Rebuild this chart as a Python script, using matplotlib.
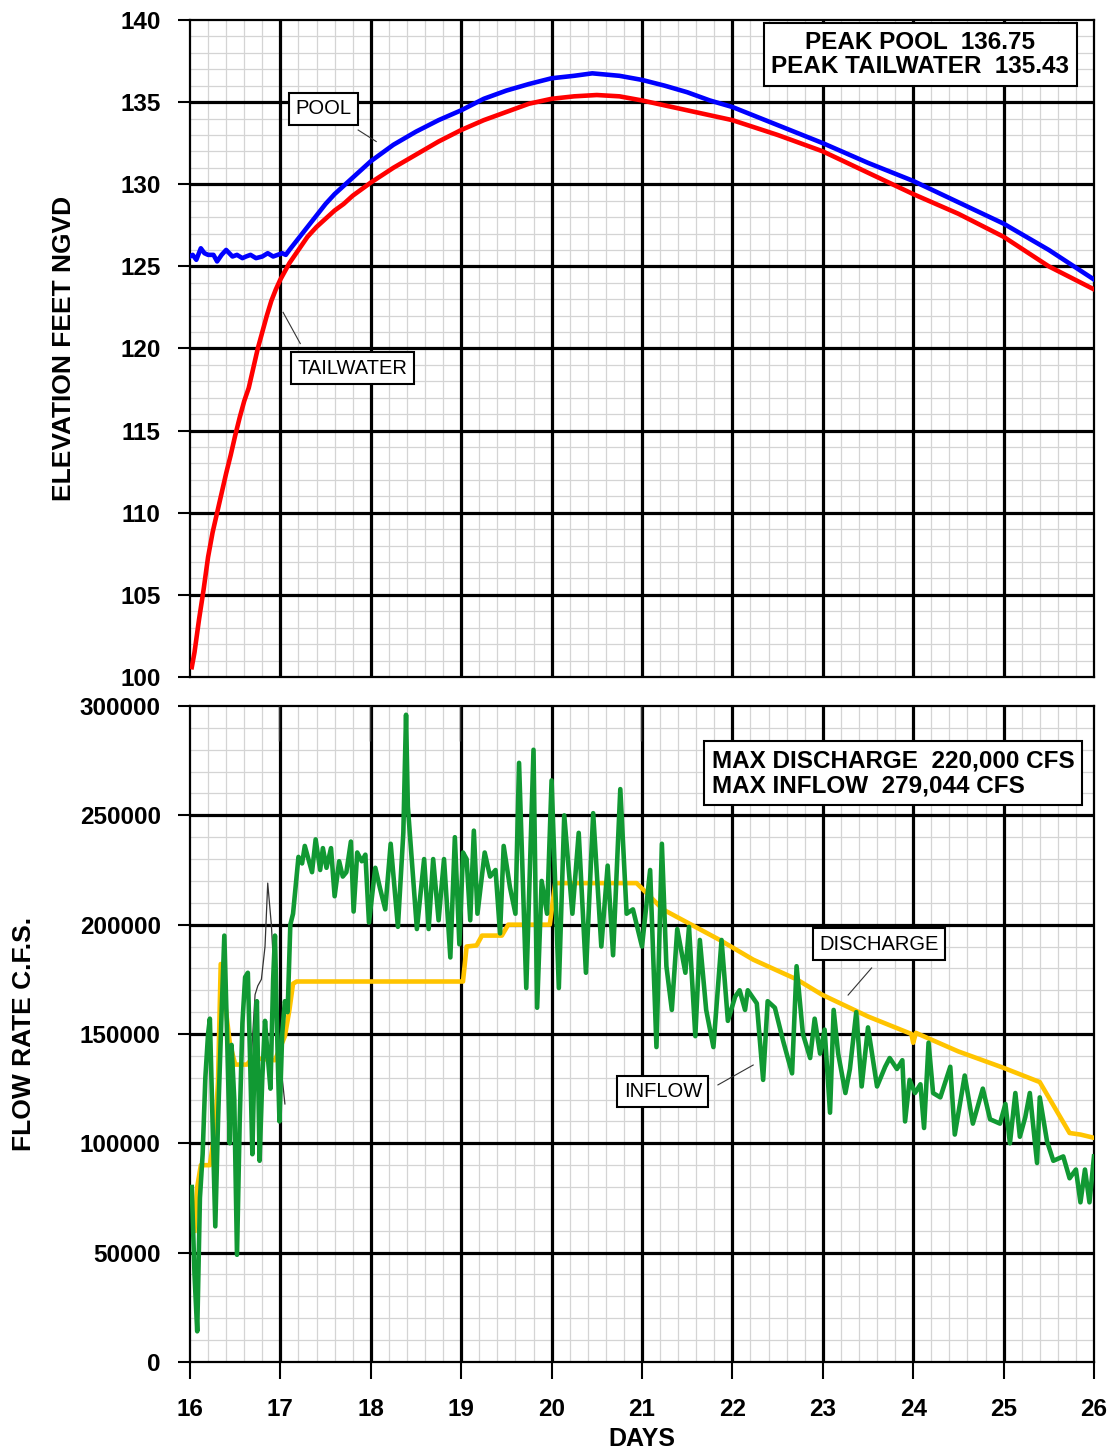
import matplotlib
matplotlib.use("Agg")
from matplotlib import pyplot as plt
from matplotlib.ticker import MultipleLocator

plt.rcParams['font.family'] = ['Liberation Sans', 'DejaVu Sans']

# ---- elevation data (days, feet NGVD) ----
pool_day = [16.0, 16.03, 16.07, 16.12, 16.16, 16.2, 16.26, 16.3, 16.35, 16.4, 16.47, 16.52,
            16.58, 16.62, 16.67, 16.73, 16.8, 16.86, 16.92, 16.97, 17.02, 17.06, 17.1,
            17.2, 17.3, 17.4, 17.5, 17.6, 17.7, 17.8, 17.9, 18.0, 18.25, 18.5, 18.75,
            19.0, 19.25, 19.5, 19.75, 20.0, 20.25, 20.45, 20.75, 21.0, 21.25, 21.5, 21.75,
            22.0, 22.5, 23.0, 23.5, 24.0, 24.5, 25.0, 25.5, 25.75, 26.0]
pool_elev = [125.6, 125.7, 125.4, 126.1, 125.8, 125.7, 125.7, 125.3, 125.7, 126.0, 125.6, 125.7,
             125.5, 125.6, 125.7, 125.5, 125.6, 125.8, 125.6, 125.7, 125.8, 125.7, 126.0,
             126.7, 127.4, 128.1, 128.8, 129.4, 129.9, 130.4, 130.9, 131.4, 132.4, 133.2, 133.9,
             134.5, 135.2, 135.7, 136.1, 136.45, 136.6, 136.75, 136.6, 136.35, 136.0, 135.6, 135.1,
             134.7, 133.6, 132.5, 131.3, 130.2, 128.9, 127.6, 126.0, 125.1, 124.2]

tail_day = [16.02, 16.05, 16.1, 16.15, 16.2, 16.25, 16.3, 16.35, 16.4, 16.45, 16.5, 16.55,
            16.6, 16.65, 16.7, 16.75, 16.8, 16.85, 16.9, 16.95, 17.0, 17.05, 17.1, 17.2,
            17.3, 17.4, 17.5, 17.6, 17.7, 17.8, 17.9, 18.0, 18.25, 18.5, 18.75, 19.0,
            19.25, 19.5, 19.75, 20.0, 20.25, 20.5, 20.75, 21.0, 21.5, 22.0, 22.5, 23.0,
            23.5, 24.0, 24.5, 25.0, 25.5, 26.0]
tail_elev = [100.6, 101.5, 103.5, 105.3, 107.3, 108.8, 110.0, 111.2, 112.4, 113.5, 114.7, 115.8,
             116.8, 117.6, 118.8, 120.0, 121.0, 122.0, 122.9, 123.6, 124.2, 124.7, 125.2, 126.0,
             126.8, 127.4, 127.9, 128.4, 128.8, 129.3, 129.7, 130.1, 131.0, 131.8, 132.6, 133.3,
             133.9, 134.4, 134.9, 135.2, 135.35, 135.43, 135.35, 135.1, 134.5, 133.9, 133.0, 132.0,
             130.7, 129.4, 128.2, 126.8, 125.0, 123.6]

# ---- flow data (days, cfs) ----
inflow_day = [16.02, 16.05, 16.08, 16.11, 16.14, 16.17, 16.2, 16.22, 16.25, 16.28, 16.31, 16.35,
              16.38, 16.41, 16.44, 16.46, 16.49, 16.52, 16.55, 16.58, 16.61, 16.64, 16.67, 16.69,
              16.72, 16.74, 16.77, 16.8, 16.83, 16.86, 16.89, 16.92, 16.94, 16.97, 16.99, 17.02,
              17.05, 17.08, 17.11, 17.14, 17.2, 17.24, 17.27, 17.35, 17.39, 17.44, 17.47, 17.51,
              17.56, 17.6, 17.65, 17.69, 17.73, 17.78, 17.81, 17.85, 17.9, 17.94, 17.98, 18.05,
              18.1, 18.16, 18.22, 18.3, 18.36, 18.39, 18.41, 18.51, 18.59, 18.64, 18.69, 18.75,
              18.81, 18.88, 18.93, 18.98, 19.02, 19.06, 19.1, 19.14, 19.18, 19.26, 19.32, 19.38,
              19.43, 19.47, 19.54, 19.6, 19.64, 19.72, 19.8, 19.84, 19.89, 19.95, 20.0, 20.08,
              20.14, 20.23, 20.3, 20.38, 20.46, 20.55, 20.62, 20.68, 20.76, 20.83, 20.9, 21.0,
              21.09, 21.16, 21.22, 21.27, 21.33, 21.39, 21.48, 21.52, 21.59, 21.64, 21.71, 21.79,
              21.88, 21.95, 22.03, 22.08, 22.14, 22.17, 22.27, 22.34, 22.39, 22.47, 22.56, 22.66,
              22.71, 22.78, 22.86, 22.91, 22.97, 23.02, 23.08, 23.12, 23.17, 23.25, 23.3, 23.37,
              23.43, 23.5, 23.6, 23.69, 23.74, 23.82, 23.88, 23.91, 23.96, 24.02, 24.08, 24.12,
              24.17, 24.22, 24.3, 24.41, 24.46, 24.57, 24.66, 24.77, 24.85, 24.96, 25.02, 25.07,
              25.13, 25.18, 25.24, 25.29, 25.37, 25.4, 25.48, 25.55, 25.66, 25.73, 25.8, 25.85,
              25.9, 25.95, 26.0]
inflow_cfs = [80000, 40000, 14000, 75000, 95000, 130000, 150000, 157000, 110000, 62000, 110000, 160000,
              195000, 150000, 100000, 145000, 120000, 49000, 110000, 155000, 176000, 178000, 130000, 95000,
              150000, 165000, 92000, 130000, 156000, 140000, 125000, 175000, 195000, 140000, 110000, 150000,
              165000, 160000, 200000, 205000, 231000, 228000, 236000, 224000, 239000, 225000, 235000, 226000,
              235000, 213000, 229000, 222000, 224000, 238000, 206000, 233000, 229000, 232000, 201000, 226000,
              217000, 207000, 237000, 199000, 242000, 296000, 254000, 198000, 230000, 198000, 230000, 202000,
              230000, 185000, 240000, 191000, 233000, 230000, 202000, 243000, 205000, 233000, 222000, 225000,
              196000, 236000, 217000, 205000, 274000, 171000, 280000, 162000, 220000, 205000, 266000, 171000,
              250000, 205000, 242000, 178000, 251000, 190000, 227000, 186000, 262000, 205000, 207000, 190000,
              225000, 144000, 237000, 181000, 161000, 198000, 178000, 199000, 149000, 193000, 161000, 144000,
              193000, 156000, 167000, 170000, 161000, 170000, 164000, 129000, 165000, 162000, 147000, 132000,
              181000, 150000, 139000, 157000, 141000, 152000, 114000, 161000, 141000, 123000, 134000, 160000,
              126000, 153000, 126000, 135000, 139000, 134000, 138000, 110000, 129000, 123000, 127000, 107000,
              146000, 123000, 121000, 135000, 104000, 131000, 109000, 125000, 111000, 109000, 118000, 100000,
              123000, 103000, 112000, 123000, 91000, 121000, 101000, 92000, 94000, 84000, 88000, 73000,
              88000, 73000, 94000]

dis_day = [16.05, 16.08, 16.12, 16.22, 16.28, 16.31, 16.34, 16.4, 16.44, 16.5, 16.63, 16.69,
           16.94, 17.05, 17.1, 17.14, 17.18, 19.02, 19.06, 19.17, 19.23, 19.45, 19.52, 19.98,
           20.04, 20.94, 21.05, 21.23, 21.5, 21.86, 22.23, 22.71, 22.99, 23.5, 23.98, 24.0,
           24.03, 24.5, 25.0, 25.4, 25.73, 25.85, 26.0]
dis_cfs = [60000, 80000, 90000, 90000, 107000, 128000, 182000, 160000, 146000, 136000, 136000, 139000,
           138000, 149000, 161000, 173000, 174000, 174000, 190000, 190500, 195000, 195000, 200000, 200000,
           219000, 219000, 214500, 207000, 201000, 193000, 184000, 175000, 168000, 158000, 150000, 146000,
           150500, 142000, 134500, 128000, 104700, 104000, 102500]

# thin dark trace behind the early inflow
aux_day = [16.68, 16.72, 16.75, 16.79, 16.83, 16.86, 16.9, 16.94, 16.98, 17.02, 17.05]
aux_cfs = [140000, 168000, 172000, 175000, 190000, 219000, 200000, 170000, 150000, 130000, 118000]

# short marks hanging from top edge of lower chart
mark_day = [16.98, 17.99, 18.99, 20.99]

fig = plt.figure(figsize=(11.11, 14.56), dpi=100)
ax1 = fig.add_axes([0.171, 0.535, 0.8137, 0.4513])
ax2 = fig.add_axes([0.171, 0.0646, 0.8137, 0.4505])

def setup(ax, ymin, ymax, ymaj, ymin_step):
    ax.set_xlim(16, 26)
    ax.set_ylim(ymin, ymax)
    ax.xaxis.set_major_locator(MultipleLocator(1))
    ax.xaxis.set_minor_locator(MultipleLocator(0.2))
    ax.yaxis.set_major_locator(MultipleLocator(ymaj))
    ax.yaxis.set_minor_locator(MultipleLocator(ymin_step))
    ax.grid(which='minor', color='#d4d4d4', lw=0.9)
    ax.set_axisbelow(True)
    # heavy major grid drawn on top of the light one
    for d in range(17, 26):
        ax.axvline(d, color='black', lw=2.3, zorder=1)
    y = ymin + ymaj
    while y < ymax:
        ax.axhline(y, color='black', lw=2.3, zorder=1)
        y += ymaj
    for s in ax.spines.values():
        s.set_linewidth(1.6)
    ax.tick_params(which='minor', length=0)
    ax.tick_params(which='major', length=9, width=1.5, labelsize=17.5, direction='out')

setup(ax1, 100, 140, 5, 1)
setup(ax2, 0, 300000, 50000, 10000)

# top chart
ax1.tick_params(axis='x', labelbottom=False, length=0)
ax1.tick_params(axis='y', pad=12)
ax1.plot(tail_day, tail_elev, color='#ff0000', lw=3.3, zorder=3)
ax1.plot(pool_day, pool_elev, color='#0000ff', lw=3.3, zorder=4)
ax1.set_ylabel('ELEVATION FEET NGVD', fontsize=19, fontweight='bold')
ax1.yaxis.set_label_coords(-0.126, 0.5)
for lab in ax1.get_yticklabels():
    lab.set_fontweight('bold')

box = dict(boxstyle='square,pad=0.32', fc='white', ec='black', lw=1.5)
ax1.text(24.08, 137.9, 'PEAK POOL  136.75\nPEAK TAILWATER  135.43', ha='center', va='center',
         fontsize=17.5, fontweight='bold', bbox=box, linespacing=1.1, zorder=6)
ax1.text(17.48, 134.6, 'POOL', ha='center', va='center', fontsize=14.5, bbox=box, zorder=6)
ax1.plot([17.86, 18.06], [133.3, 132.6], color='#333333', lw=0.8, zorder=5)
ax1.text(17.80, 118.8, 'TAILWATER', ha='center', va='center', fontsize=14.5, bbox=box, zorder=6)
ax1.plot([17.03, 17.22], [122.2, 120.3], color='#333333', lw=0.8, zorder=5)

# bottom chart
ax2.tick_params(axis='x', length=12, pad=14)
ax2.tick_params(axis='y', pad=12)
ax2.plot(aux_day, aux_cfs, color='#333333', lw=0.9, zorder=2)
ax2.plot(dis_day, dis_cfs, color='#ffc400', lw=3.3, zorder=3)
ax2.plot(inflow_day, inflow_cfs, color='#119933', lw=3.3, zorder=4)
ax2.vlines(mark_day, 284000, 300000, color='#333333', lw=1.0, zorder=5)
ax2.set_ylabel('FLOW RATE C.F.S.', fontsize=19, fontweight='bold')
ax2.yaxis.set_label_coords(-0.170, 0.5)
ax2.set_xlabel('DAYS', fontsize=18, fontweight='bold', labelpad=4)
for lab in ax2.get_xticklabels() + ax2.get_yticklabels():
    lab.set_fontweight('bold')

ax2.text(23.78, 269300, 'MAX DISCHARGE  220,000 CFS\nMAX INFLOW  279,044 CFS', ha='center', va='center',
         fontsize=17.5, fontweight='bold', bbox=box, linespacing=1.1, multialignment='left', zorder=6)
ax2.text(23.62, 191100, 'DISCHARGE', ha='center', va='center', fontsize=14.5, bbox=box, zorder=6)
ax2.plot([23.28, 23.54], [167800, 180200], color='#333333', lw=0.8, zorder=5)
ax2.text(21.23, 123700, 'INFLOW', ha='center', va='center', fontsize=14.5, bbox=box, zorder=6)
ax2.plot([21.84, 22.23], [126700, 135800], color='#333333', lw=0.8, zorder=5)

fig.savefig('out.png', dpi=100)
